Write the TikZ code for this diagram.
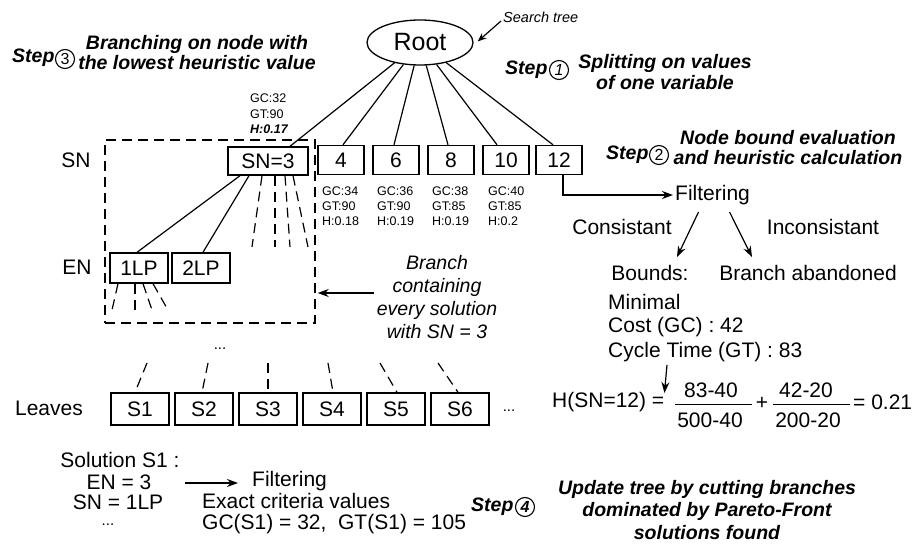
\documentclass[tikz,border=0pt]{standalone}
\usepackage{fontspec}
\setmainfont{Liberation Sans}
\usetikzlibrary{arrows.meta,shapes.geometric,calc}
\newcommand\myMain{\fontsize{21}{24}\selectfont}
\newcommand\myBox{\fontsize{21}{24}\selectfont}
\newcommand\myRoot{\fontsize{25}{28}\selectfont}
\newcommand\myStep{\bfseries\itshape}
\newcommand\mySml{\fontsize{12.5}{15}\selectfont}
\newcommand\mySrch{\fontsize{14.5}{17}\selectfont\itshape}
\newcommand\myBr{\fontsize{19.5}{23.3}\selectfont\itshape}
\newcommand\myNum{\fontsize{16}{18}\selectfont}
\begin{document}
\begin{tikzpicture}[x=1pt,y=-1pt,
  bx/.style={draw,line width=1.4pt,inner sep=0pt,minimum height=29pt,minimum width=46pt,font=\myBox},
  tl/.style={line width=1.2pt},
  dl/.style={line width=1.2pt,dash pattern=on 10pt off 6pt},
  arr/.style={line width=1.2pt,-{Stealth[length=11pt,width=8pt]}},
  txt/.style={inner sep=0pt,font=\myMain},
  stp/.style={inner sep=0pt},
  num/.style={circle,draw,line width=1.1pt,inner sep=0pt,minimum size=19pt,font=\myNum},
  ann/.style={inner sep=0pt,font=\mySml,align=left,anchor=north west},
]
\useasboundingbox (0,0) rectangle (916,545);

% root
\node[ellipse,draw,line width=1.3pt,minimum width=106pt,minimum height=45pt,inner sep=0pt,font=\myRoot] (root) at (420,42.5) {Root};
\node[font=\mySrch,anchor=west,inner sep=0pt] (srch) at (503,17) {Search tree};
\draw[line width=1.2pt,-{Stealth[length=9pt,width=7pt]}] ($(srch.west)+(-2,4)$) -- ($(root.east)+(4,-1)$);

% dashed branch box
\node[draw,line width=1.4pt,dash pattern=on 10pt off 6pt,minimum width=210pt,minimum height=183pt,inner sep=0pt] (dbox) at (210,231.5) {};

% first level boxes
\node[bx,minimum width=80pt,minimum height=28pt] (sn3) at (268,161) {SN=3};
\node[bx] (b4) at (341,160) {4};
\node[bx] (b6) at (396,160) {6};
\node[bx] (b8) at (451,160) {8};
\node[bx] (b10) at (506,160) {10};
\node[bx] (b12) at (559,160) {12};

\draw[tl] (root) -- ([xshift=22pt]sn3.north);
\draw[tl] (root) -- ([xshift=2pt]b4.north);
\draw[tl] (root) -- ([xshift=-2pt]b6.north);
\draw[tl] (root) -- ([xshift=-3pt]b8.north);
\draw[tl] (root) -- ([xshift=-9pt]b10.north);
\draw[tl] (root) -- ([xshift=-6pt]b12.north);

% annotations
\node[ann,font=\fontsize{12.5}{15.5}\selectfont] (a3) at (250,94) {GC:32\\GT:90\\\textbf{\textit{H:0.17}}};
\node[ann] (a4) at (322,187) {GC:34\\GT:90\\H:0.18};
\node[ann] (a6) at (377,187) {GC:36\\GT:90\\H:0.19};
\node[ann] (a8) at (432,187) {GC:38\\GT:85\\H:0.19};
\node[ann] (a10) at (488,187) {GC:40\\GT:85\\H:0.2};

% level labels
\node[txt] (lsn) at (76,160) {SN};
\node[txt] (len) at (77,267) {EN};
\node[txt] (llv) at (49,408) {Leaves};

% second level
\node[bx,minimum width=58pt,minimum height=30pt] (lp1) at (139,268) {1LP};
\node[bx,minimum width=58pt,minimum height=30pt] (lp2) at (201,268) {2LP};
\draw[tl] ([xshift=-28pt]sn3.south) -- ([xshift=-2pt]lp1.north);
\draw[tl] ([xshift=-19pt]sn3.south) -- ([xshift=2pt]lp2.north);

\coordinate (f1) at (252,247);
\coordinate (f2) at (275,247);
\coordinate (f3) at (290,247);
\coordinate (f4) at (308,247);
\draw[dl] ([xshift=-6pt]sn3.south) -- (f1);
\draw[dl] ([xshift=7pt]sn3.south) -- (f2);
\draw[dl] ([xshift=17pt]sn3.south) -- (f3);
\draw[dl] ([xshift=25pt]sn3.south) -- (f4);

\coordinate (g1) at (112,310);
\coordinate (g2) at (135,310);
\coordinate (g3) at (152,310);
\coordinate (g4) at (168,310);
\draw[dl] ([xshift=-21pt]lp1.south) -- (g1);
\draw[dl] ([xshift=-4pt]lp1.south) -- (g2);
\draw[dl] ([xshift=4pt]lp1.south) -- (g3);
\draw[dl] ([xshift=14pt]lp1.south) -- (g4);

% branch note
\node[font=\myBr,align=center,inner sep=1pt] (branch) at (437,297) {Branch\\containing\\every solution\\with SN = 3};
\coordinate (bw) at ($(branch.west)+(-2,-4)$);
\draw[arr] (bw) -- ($(bw -| dbox.east)+(2,0)$);

\node[font=\fontsize{15}{18}\selectfont,inner sep=0pt] (dots1) at (220,349) {...};

% leaves
\node[bx,minimum width=58pt,minimum height=32pt] (s1) at (140,409) {S1};
\node[bx,minimum width=58pt,minimum height=32pt] (s2) at (204,409) {S2};
\node[bx,minimum width=58pt,minimum height=32pt] (s3) at (268,409) {S3};
\node[bx,minimum width=58pt,minimum height=32pt] (s4) at (332,409) {S4};
\node[bx,minimum width=58pt,minimum height=32pt] (s5) at (396,409) {S5};
\node[bx,minimum width=58pt,minimum height=32pt] (s6) at (460,409) {S6};
\node[font=\fontsize{15}{18}\selectfont,inner sep=0pt] (dots2) at (509,411) {...};

\coordinate (h1) at (147,363);
\coordinate (h2) at (208,363);
\coordinate (h3) at (268,363);
\coordinate (h4) at (328,363);
\coordinate (h5) at (380,363);
\coordinate (h6) at (438,363);
\draw[dl] (h1) -- ([xshift=-5pt]s1.north);
\draw[dl] (h2) -- ([xshift=-2pt]s2.north);
\draw[dl] (h3) -- (s3.north);
\draw[dl] (h4) -- ([xshift=1pt]s4.north);
\draw[dl] (h5) -- ([xshift=1pt]s5.north);
\draw[dl] (h6) -- ([xshift=-2pt]s6.north);

% solution block
\node[txt] (sol) at (120,460) {Solution S1 :};
\node[txt] (solen) at (119,482) {EN = 3};
\node[txt] (solsn) at (118,502) {SN = 1LP};
\node[font=\fontsize{15}{18}\selectfont,inner sep=0pt] (dots3) at (108,525) {...};
\coordinate (fa) at (185,483);
\node[txt,anchor=west] (filt2) at (252,481) {Filtering};
\draw[arr] (fa) -- ($(filt2.west)+(-14,2)$);
\node[txt,anchor=west] (exact) at (202,501) {Exact criteria values};
\node[txt,anchor=west] (gcs) at (202,524) {GC(S1) = 32,~ GT(S1) = 105};

% filtering (right)
\node[txt,anchor=west] (filt1) at (675,195) {Filtering};
\draw[arr] ([xshift=4pt]b12.south) |- ([xshift=-2pt]filt1.west);
\node[txt] (cons) at (622,227) {Consistant};
\node[txt] (incons) at (823,227) {Inconsistant};
\node[txt] (bounds) at (650,273) {Bounds:};
\node[txt] (aband) at (808,273) {Branch abandoned};
\draw[arr] ($(filt1.south)+(-14,7)$) -- ($(bounds.north)+(27,-8)$);
\draw[arr] ($(filt1.south)+(17,7)$) -- ($(aband.north)+(-56,-8)$);

\node[txt,anchor=west] (mini) at (608,302) {Minimal};
\node[txt,anchor=west] (cost) at (608,327) {Cost (GC) : 42};
\node[txt,anchor=west] (cyc) at (608,352) {Cycle Time (GT) : 83};

% heuristic formula
\node[txt,anchor=west] (hlhs) at (552,402) {H(SN=12) =};
\draw[arr] ($(cyc.south west)+(59,3)$) -- ($(hlhs.east)+(0,-9)$);
\node[txt] (n1) at (711,390) {83-40};
\node[txt] (d1) at (710,420) {500-40};
\draw[line width=0.8pt] (675,404) -- (752,404);
\node[txt] (plus) at (762,403) {+};
\node[txt] (n2) at (806,390) {42-20};
\node[txt] (d2) at (808,420) {200-20};
\draw[line width=0.8pt] (773,404) -- (850,404);
\node[txt,anchor=west] (res) at (853,402) {= 0.21};

% steps
\node[stp,anchor=west,font=\fontsize{19.5}{20}\selectfont\myStep] (st3) at (12,58) {Step};
\node[num] (c3) at (65,59) {3};
\node[stp,align=center,font=\fontsize{19.5}{20}\selectfont\myStep] (t3) at (197,53) {Branching on node with\\the lowest heuristic value};

\node[stp,anchor=west,font=\fontsize{19.5}{21}\selectfont\myStep] (st1) at (505,70) {Step};
\node[num] (c1) at (559,70) {\itshape 1};
\node[stp,align=center,font=\fontsize{19.5}{21}\selectfont\myStep] (t1) at (665,72.5) {Splitting on values\\of one variable};

\node[stp,anchor=west,font=\fontsize{19.5}{20}\selectfont\myStep] (st2) at (606,155) {Step};
\node[num] (c2) at (659,155) {2};
\node[stp,align=center,font=\fontsize{19.5}{20}\selectfont\myStep] (t2) at (788,148) {Node bound evaluation\\and heuristic calculation};

\node[stp,anchor=west,font=\fontsize{19.5}{22.5}\selectfont\myStep] (st4) at (471,507) {Step};
\node[num] (c4) at (525,507) {\bfseries\itshape 4};
\node[stp,align=center,font=\fontsize{19.5}{22.5}\selectfont\myStep] (t4) at (707,510) {Update tree by cutting branches\\dominated by Pareto-Front\\solutions found};
\end{tikzpicture}
\end{document}
